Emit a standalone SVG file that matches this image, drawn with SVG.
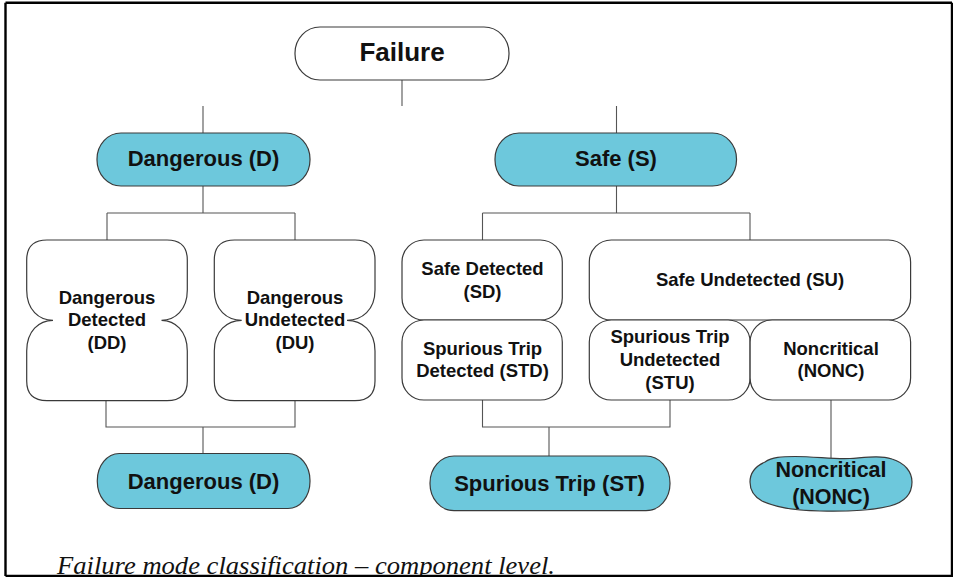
<svg xmlns="http://www.w3.org/2000/svg" width="953" height="577" viewBox="0 0 953 577">
<style>
.box{fill:#fff;stroke:#3a3a3a;stroke-width:1.2}
.blue{fill:#6dc8dc;stroke:#3a3a3a;stroke-width:1.2}
.t{font-family:"Liberation Sans",Arial,sans-serif;font-weight:bold;fill:#111;text-anchor:middle}
.s19{font-size:18.5px}
.s22{font-size:22px}
.conn{fill:none;stroke:#555;stroke-width:1.1}
</style>
<rect x="0" y="0" width="953" height="577" fill="#fff"/>
<g id="connectors" class="conn">
<path d="M402 80V106"/>
<path d="M203 106V133"/>
<path d="M616.5 106V133"/>
<path d="M203 186V213M107 213H295M107 213V240M295 213V240"/>
<path d="M616.5 186V213M482.5 213H750M482.5 213V240M750 213V240"/>
<path d="M106 401V427H295V401M203 427V453.5"/>
<path d="M482.5 400V427H670V400M549 427V456"/>
<path d="M831 400V458"/>
</g>
<g id="failure">
<rect class="box" x="295" y="27" width="214" height="53" rx="25" ry="26"/>
<text class="t" x="402" y="61" font-size="26">Failure</text>
</g>
<g id="dangerous">
<rect class="blue" x="97" y="133" width="213" height="53" rx="24" ry="26"/>
<text class="t s22" x="203.5" y="166">Dangerous (D)</text>
</g>
<g id="safe">
<rect class="blue" x="495" y="133" width="241.5" height="53" rx="24" ry="26"/>
<text class="t s22" x="616" y="166">Safe (S)</text>
</g>
<g id="dd">
<path class="box" d="M47 240H167Q187.3 240 187.3 260V290C187.3 310 175 320.3 161.5 320.3C175 320.3 187.3 331 187.3 351V381Q187.3 400.7 167 400.7H47Q26.7 400.7 26.7 381V351C26.7 331 39 320.3 53 320.3C39 320.3 26.7 310 26.7 290V260Q26.7 240 47 240Z"/>
<text class="t s19" x="107" y="304">Dangerous</text>
<text class="t s19" x="107" y="326">Detected</text>
<text class="t s19" x="107" y="349">(DD)</text>
</g>
<g id="du">
<path class="box" d="M234.5 240H355Q375 240 375 260V290C375 310 362 320.3 347 320.3C362 320.3 375 331 375 351V381Q375 400.7 355 400.7H234.5Q214.3 400.7 214.3 381V351C214.3 331 227 320.3 241.7 320.3C227 320.3 214.3 310 214.3 290V260Q214.3 240 234.5 240Z"/>
<text class="t s19" x="295" y="304">Dangerous</text>
<text class="t s19" x="295" y="326">Undetected</text>
<text class="t s19" x="295" y="349">(DU)</text>
</g>
<g id="sd">
<rect class="box" x="402" y="240" width="160.3" height="80" rx="22"/>
<text class="t s19" x="482.5" y="275">Safe Detected</text>
<text class="t s19" x="482.5" y="298">(SD)</text>
</g>
<g id="std">
<rect class="box" x="402" y="320" width="160.3" height="80" rx="22"/>
<text class="t s19" x="482.5" y="355">Spurious Trip</text>
<text class="t s19" x="482.5" y="377">Detected (STD)</text>
</g>
<g id="su">
<rect class="box" x="589.3" y="240" width="321.3" height="80" rx="22"/>
<text class="t s19" x="750" y="286">Safe Undetected (SU)</text>
</g>
<g id="stu">
<rect class="box" x="589.3" y="320" width="160.8" height="80" rx="22"/>
<text class="t s19" x="670" y="343">Spurious Trip</text>
<text class="t s19" x="670" y="366">Undetected</text>
<text class="t s19" x="670" y="389">(STU)</text>
</g>
<g id="nonc">
<rect class="box" x="750.1" y="320" width="160.5" height="80" rx="22"/>
<text class="t s19" x="831" y="355">Noncritical</text>
<text class="t s19" x="831" y="377">(NONC)</text>
</g>
<g id="dangerous-total">
<rect class="blue" x="97.3" y="453.5" width="212.7" height="55" rx="22" ry="27"/>
<text class="t s22" x="203.5" y="488.5">Dangerous (D)</text>
</g>
<g id="spurious-trip">
<rect class="blue" x="430" y="456" width="240" height="54.7" rx="24" ry="27"/>
<text class="t s22" x="549.5" y="491">Spurious Trip (ST)</text>
</g>
<g id="noncritical-total">
<path class="blue" d="M765 462C772 457 782 456.5 795 456.5C815 456.5 835 459.5 850 458.5C865 457.5 880 455 892 459C905 463 912 472 912 482C912 494 905 502 890 506C870 511 840 511.5 820 511C795 510.5 775 507 762 501C753 496 750 490 750 482C750 472 756 466 765 462Z"/>
<text class="t" x="831" y="477" font-size="21.5">Noncritical</text>
<text class="t" x="831" y="504" font-size="21.5">(NONC)</text>
</g>
<text x="57" y="574" font-family="'Liberation Serif','Times New Roman',serif" font-style="italic" font-size="25" fill="#111" textLength="498" lengthAdjust="spacingAndGlyphs">Failure mode classification – component level.</text>
<g id="frame" fill="none" stroke="#000" stroke-width="2.4">
<path d="M5.5 2.8H952M5.5 2.8V576M952 2.8V577M5.5 576H953"/>
</g>
</svg>
